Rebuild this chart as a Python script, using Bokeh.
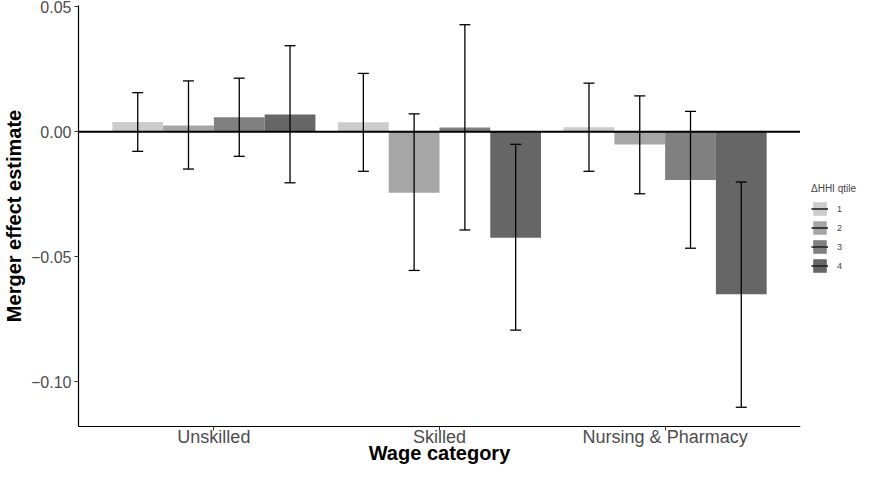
from bokeh.plotting import figure
from bokeh.layouts import row
from bokeh.models import Range1d, FixedTicker, Span, Legend, LegendItem, ColumnDataSource
from bokeh.embed import file_html
from bokeh.resources import INLINE

categories = ["Unskilled", "Skilled", "Nursing & Pharmacy"]
qtiles = ["1", "2", "3", "4"]

est_q1 = [0.0039, 0.0038, 0.0018]
lo_q1 = [-0.0078, -0.0158, -0.0158]
hi_q1 = [0.0157, 0.0234, 0.0195]

est_q2 = [0.0025, -0.0244, -0.0051]
lo_q2 = [-0.0149, -0.0555, -0.0248]
hi_q2 = [0.0204, 0.0072, 0.0144]

est_q3 = [0.0058, 0.0017, -0.0193]
lo_q3 = [-0.0098, -0.0393, -0.0466]
hi_q3 = [0.0215, 0.0429, 0.0082]

est_q4 = [0.0069, -0.0424, -0.0650]
lo_q4 = [-0.0204, -0.0794, -0.1103]
hi_q4 = [0.0345, -0.0050, -0.0201]

y_ticks = [-0.10, -0.05, 0.0, 0.05]
y_tick_labels = ["\u22120.10", "\u22120.05", "0.00", "0.05"]

colors = ["#CCCCCC", "#A6A6A6", "#808080", "#666666"]
FONT = "Liberation Sans"

p = figure(width=800, height=466, output_backend="svg", toolbar_location=None,
           x_range=Range1d(0.4, 3.6), y_range=Range1d(-0.1180, 0.0506),
           min_border_left=70, min_border_right=0, min_border_top=5, min_border_bottom=0)
p.outline_line_color = None
p.grid.visible = False
p.background_fill_color = "white"
p.border_fill_color = "white"

# separate narrow figure that only carries the legend
lg = figure(width=57, height=466, output_backend="svg", toolbar_location=None,
            x_axis_location=None, y_axis_location=None,
            x_range=Range1d(10, 11), y_range=Range1d(10, 11),
            min_border_left=0, min_border_right=0, min_border_top=0, min_border_bottom=0)
lg.outline_line_color = None
lg.grid.visible = False
lg.background_fill_color = "white"
lg.border_fill_color = "white"

dodge = 0.225
offsets = [-1.5 * dodge, -0.5 * dodge, 0.5 * dodge, 1.5 * dodge]
cap = 0.0244
series = [(est_q1, lo_q1, hi_q1), (est_q2, lo_q2, hi_q2),
          (est_q3, lo_q3, hi_q3), (est_q4, lo_q4, hi_q4)]

zero = Span(location=0, dimension="width", line_color="black", line_width=2, level="glyph")

items = []
seg_renderers = []
for k, (est, lo, hi) in enumerate(series):
    xs = [i + 1 + offsets[k] for i in range(len(categories))]
    src = ColumnDataSource(dict(x=xs, top=est))
    p.vbar(x="x", top="top", bottom=0, width=dodge, source=src,
           fill_color=colors[k], line_color=None)
    x0, x1, y0, y1 = [], [], [], []
    for x, l, h in zip(xs, lo, hi):
        x0 += [x, x - cap, x - cap]
        x1 += [x, x + cap, x + cap]
        y0 += [l, l, h]
        y1 += [h, l, h]
    seg = p.segment(x0=x0, x1=x1, y0=y0, y1=y1, line_color="black", line_width=1.3)
    seg_renderers.append(seg)
    # legend key proxies: same data, in the legend figure outside its visible range
    kb = lg.vbar(x="x", top="top", bottom=0, width=dodge, source=src,
                 fill_color=colors[k], line_color=None)
    ks = lg.segment(x0=x0, x1=x1, y0=y0, y1=y1, line_color="#222222", line_width=1.6)
    items.append(LegendItem(label=qtiles[k], renderers=[kb, ks]))

p.add_layout(zero)
for s in seg_renderers:
    s.level = "overlay"

# axes
xa = p.xaxis[0]
xa.ticker = FixedTicker(ticks=[1, 2, 3])
xa.major_label_overrides = {i + 1: c for i, c in enumerate(categories)}
xa.axis_label = "Wage category"
ya = p.yaxis[0]
ya.ticker = FixedTicker(ticks=y_ticks)
ya.major_label_overrides = {t: l for t, l in zip(y_ticks, y_tick_labels)}
ya.axis_label = "Merger effect estimate"

for ax in (xa, ya):
    ax.axis_line_color = "black"
    ax.axis_line_width = 1.2
    ax.major_tick_line_color = "#333333"
    ax.major_tick_out = 4
    ax.major_tick_in = 0
    ax.minor_tick_line_color = None
    ax.major_label_text_font = FONT
    ax.major_label_text_color = "#4D4D4D"
    ax.axis_label_text_font = FONT
    ax.axis_label_text_font_style = "bold"
    ax.axis_label_text_color = "black"
xa.axis_label_text_font_size = "20px"
ya.axis_label_text_font_size = "20px"
xa.major_label_text_font_size = "18px"
ya.major_label_text_font_size = "16px"
xa.major_label_text_line_height = 1.0
xa.axis_label_text_line_height = 1.0
xa.major_label_standoff = -4
xa.axis_label_standoff = -8
ya.major_label_standoff = 3
ya.axis_label_standoff = 3

legend = Legend(items=items, title="\u0394HHI qtile", location=(11, 152))
legend.title_text_font = FONT
legend.title_text_font_size = "10px"
legend.title_text_font_style = "normal"
legend.title_standoff = 6
legend.label_text_font = FONT
legend.label_text_font_size = "9px"
legend.glyph_width = 17
legend.glyph_height = 17
legend.spacing = 2
legend.label_standoff = 9
legend.padding = 0
legend.margin = 0
legend.border_line_color = None
legend.background_fill_alpha = 0
lg.add_layout(legend, "center")

layout = row(p, lg, spacing=0)
open("out.html", "w").write(file_html(layout, INLINE))
